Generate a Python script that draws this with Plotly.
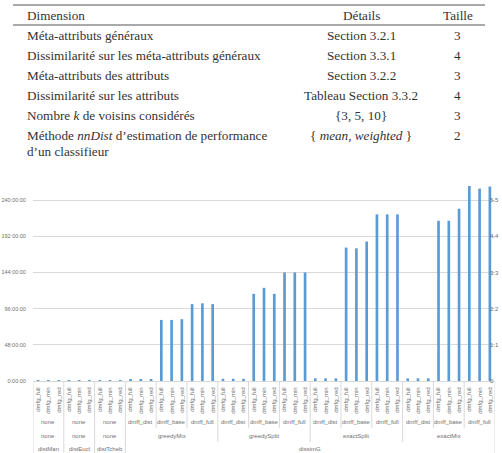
import plotly.graph_objects as go

# ---------------- table (top) ----------------
table_header = ["Dimension", "Détails", "Taille"]
table_dimension = [
    "Méta-attributs généraux",
    "Dissimilarité sur les méta-attributs généraux",
    "Méta-attributs des attributs",
    "Dissimilarité sur les attributs",
    "Nombre <i>k</i> de voisins considérés",
    "Méthode <i>nnDist</i> d’estimation de performance",
]
table_dimension_extra = ["", "", "", "", "", "d’un classifieur"]
table_details = [
    "Section 3.2.1",
    "Section 3.3.1",
    "Section 3.2.2",
    "Tableau Section 3.3.2",
    "{3, 5, 10}",
    "{ <i>mean, weighted</i> }",
]
table_taille = ["3", "4", "3", "4", "3", "2"]

# ---------------- chart data ----------------
leaf_labels = ["dmfg_full", "dmfg_min", "dmfg_red"] * 15
level2 = ["none"] * 9 + (["dmff_dist"] * 3 + ["dmff_base"] * 3 + ["dmff_full"] * 3) * 4
level3 = ["none"] * 9 + ["greedyMix"] * 9 + ["greedySplit"] * 9 + ["exactSplit"] * 9 + ["exactMix"] * 9
level4 = ["distMan"] * 3 + ["distEucl"] * 3 + ["distTcheb"] * 3 + ["dissimG"] * 36

hours = [
    1.0, 1.0, 1.0, 1.0, 1.0, 1.0, 1.0, 1.0, 1.0,
    2.5, 2.5, 2.5, 81.0, 81.0, 82.0, 102.0, 103.0, 102.0,
    3.0, 3.0, 3.0, 115.6, 123.6, 115.6, 144.0, 144.0, 144.0,
    3.5, 3.5, 3.5, 177.0, 176.0, 185.0, 221.0, 221.0, 221.0,
    3.5, 3.5, 3.5, 212.5, 212.5, 228.5, 258.7, 255.2, 257.9,
]

left_tickvals = [0, 48, 96, 144, 192, 240]
left_ticktext = ["0:00:00", "48:00:00", "96:00:00", "144:00:00", "192:00:00", "240:00:00"]
right_tickvals = [0, 1.1, 2.2, 3.3, 4.4, 5.5]
right_ticktext = ["0", "1.1", "2.2", "3.3", "4.4", "5.5"]

# ---------------- layout geometry (pixels) ----------------
W, H = 502, 453
L, R, T, B = 33, 7, 180, 72
PW, PH = W - L - R, H - T - B
YMAX = 266.6

def px(x):
    return (x - L) / PW

def py(y):
    return (H - B - y) / PH

TXT = "#333333"
AX = "#707070"
GRID = "#d9d9d9"
SERIF = "'Liberation Serif', 'Times New Roman', 'DejaVu Serif', serif"
SANS = "'Liberation Sans', Arial, sans-serif"

idx = list(range(len(hours)))

fig = go.Figure()
fig.add_trace(go.Bar(x=idx, y=hours, marker=dict(color="#5b9bd5", line=dict(width=0)),
                     showlegend=False))
fig.add_trace(go.Scatter(x=[], y=[], yaxis="y2", showlegend=False))

annotations = []
shapes = []

# table
def tann(text, x, y, xanchor):
    annotations.append(dict(text=text, x=px(x), y=py(y), xref="paper", yref="paper",
                            xanchor=xanchor, yanchor="middle", showarrow=False,
                            font=dict(family=SERIF, size=13.2, color=TXT)))

col1_x, col2_x, col3_x = 24.5, 361, 457.5
tann(table_header[0], col1_x, 15.5, "left")
tann(table_header[1], col2_x, 15.5, "center")
tann(table_header[2], col3_x, 15.5, "center")
for i in range(len(table_dimension)):
    yc = 35.5 + 20 * i - (0.5 if i == 5 else 0)
    tann(table_dimension[i], col1_x, yc, "left")
    if table_dimension_extra[i]:
        tann(table_dimension_extra[i], col1_x, yc + 16.5, "left")
    tann(table_details[i], col2_x, yc, "center")
    tann(table_taille[i], col3_x, yc, "center")

for yy in (5, 25):
    shapes.append(dict(type="line", xref="paper", yref="paper", x0=px(13), x1=px(485),
                       y0=py(yy), y1=py(yy), line=dict(color="#555555", width=1)))

# multi-level category labels
def runs(keys):
    out = []
    start = 0
    for i in range(1, len(keys) + 1):
        if i == len(keys) or keys[i] != keys[start]:
            out.append((start, i - 1))
            start = i
    return out

k2 = list(zip(level4, level3, level2))
k3 = list(zip(level4, level3))
k4 = list(level4)
for keys, labels, ylab in ((k2, level2, 421.5), (k3, level3, 435.5), (k4, level4, 448.5)):
    for a, b in runs(keys):
        annotations.append(dict(text=labels[a], x=(a + b) / 2, y=py(ylab), xref="x", yref="paper",
                                xanchor="center", yanchor="middle", showarrow=False,
                                font=dict(family=SANS, size=6, color=AX)))

# divider lines
for i in range(len(hours) + 1):
    if i == 0 or i == len(hours) or k4[i] != k4[i - 1]:
        depth = 453
    elif k3[i] != k3[i - 1]:
        depth = 442
    elif k2[i] != k2[i - 1]:
        depth = 428
    else:
        continue
    shapes.append(dict(type="line", xref="x", yref="paper", x0=i - 0.5, x1=i - 0.5,
                       y0=0, y1=py(depth), line=dict(color=GRID, width=1)))

fig.update_layout(
    template="none",
    width=W, height=H,
    margin=dict(l=L, r=R, t=T, b=B, pad=0),
    paper_bgcolor="white", plot_bgcolor="white",
    bargap=0.74,
    showlegend=False,
    xaxis=dict(range=[-0.5, len(hours) - 0.5], tickmode="array", tickvals=idx, ticktext=leaf_labels,
               tickangle=-90, tickfont=dict(family=SANS, size=6, color=AX), automargin=False,
               showgrid=False, zeroline=False, showline=True, linecolor=GRID, linewidth=1,
               ticks="outside", ticklen=3, tickcolor="rgba(0,0,0,0)", fixedrange=True),
    yaxis=dict(range=[0, YMAX], tickmode="array", tickvals=left_tickvals, ticktext=left_ticktext,
               tickfont=dict(family=SANS, size=5.5, color=AX), gridcolor=GRID, gridwidth=1,
               automargin=False, zeroline=False, showline=False, ticks="outside", ticklen=5,
               tickcolor="rgba(0,0,0,0)"),
    yaxis2=dict(range=[0, YMAX * 5.5 / 240], overlaying="y", side="right", anchor="free",
                position=px(489), tickmode="array", tickvals=right_tickvals, ticktext=right_ticktext,
                tickfont=dict(family=SANS, size=6, color=AX), showgrid=False, zeroline=False,
                automargin=False, showline=False, ticks=""),
    annotations=annotations,
    shapes=shapes,
)

fig.write_html("out.html")
